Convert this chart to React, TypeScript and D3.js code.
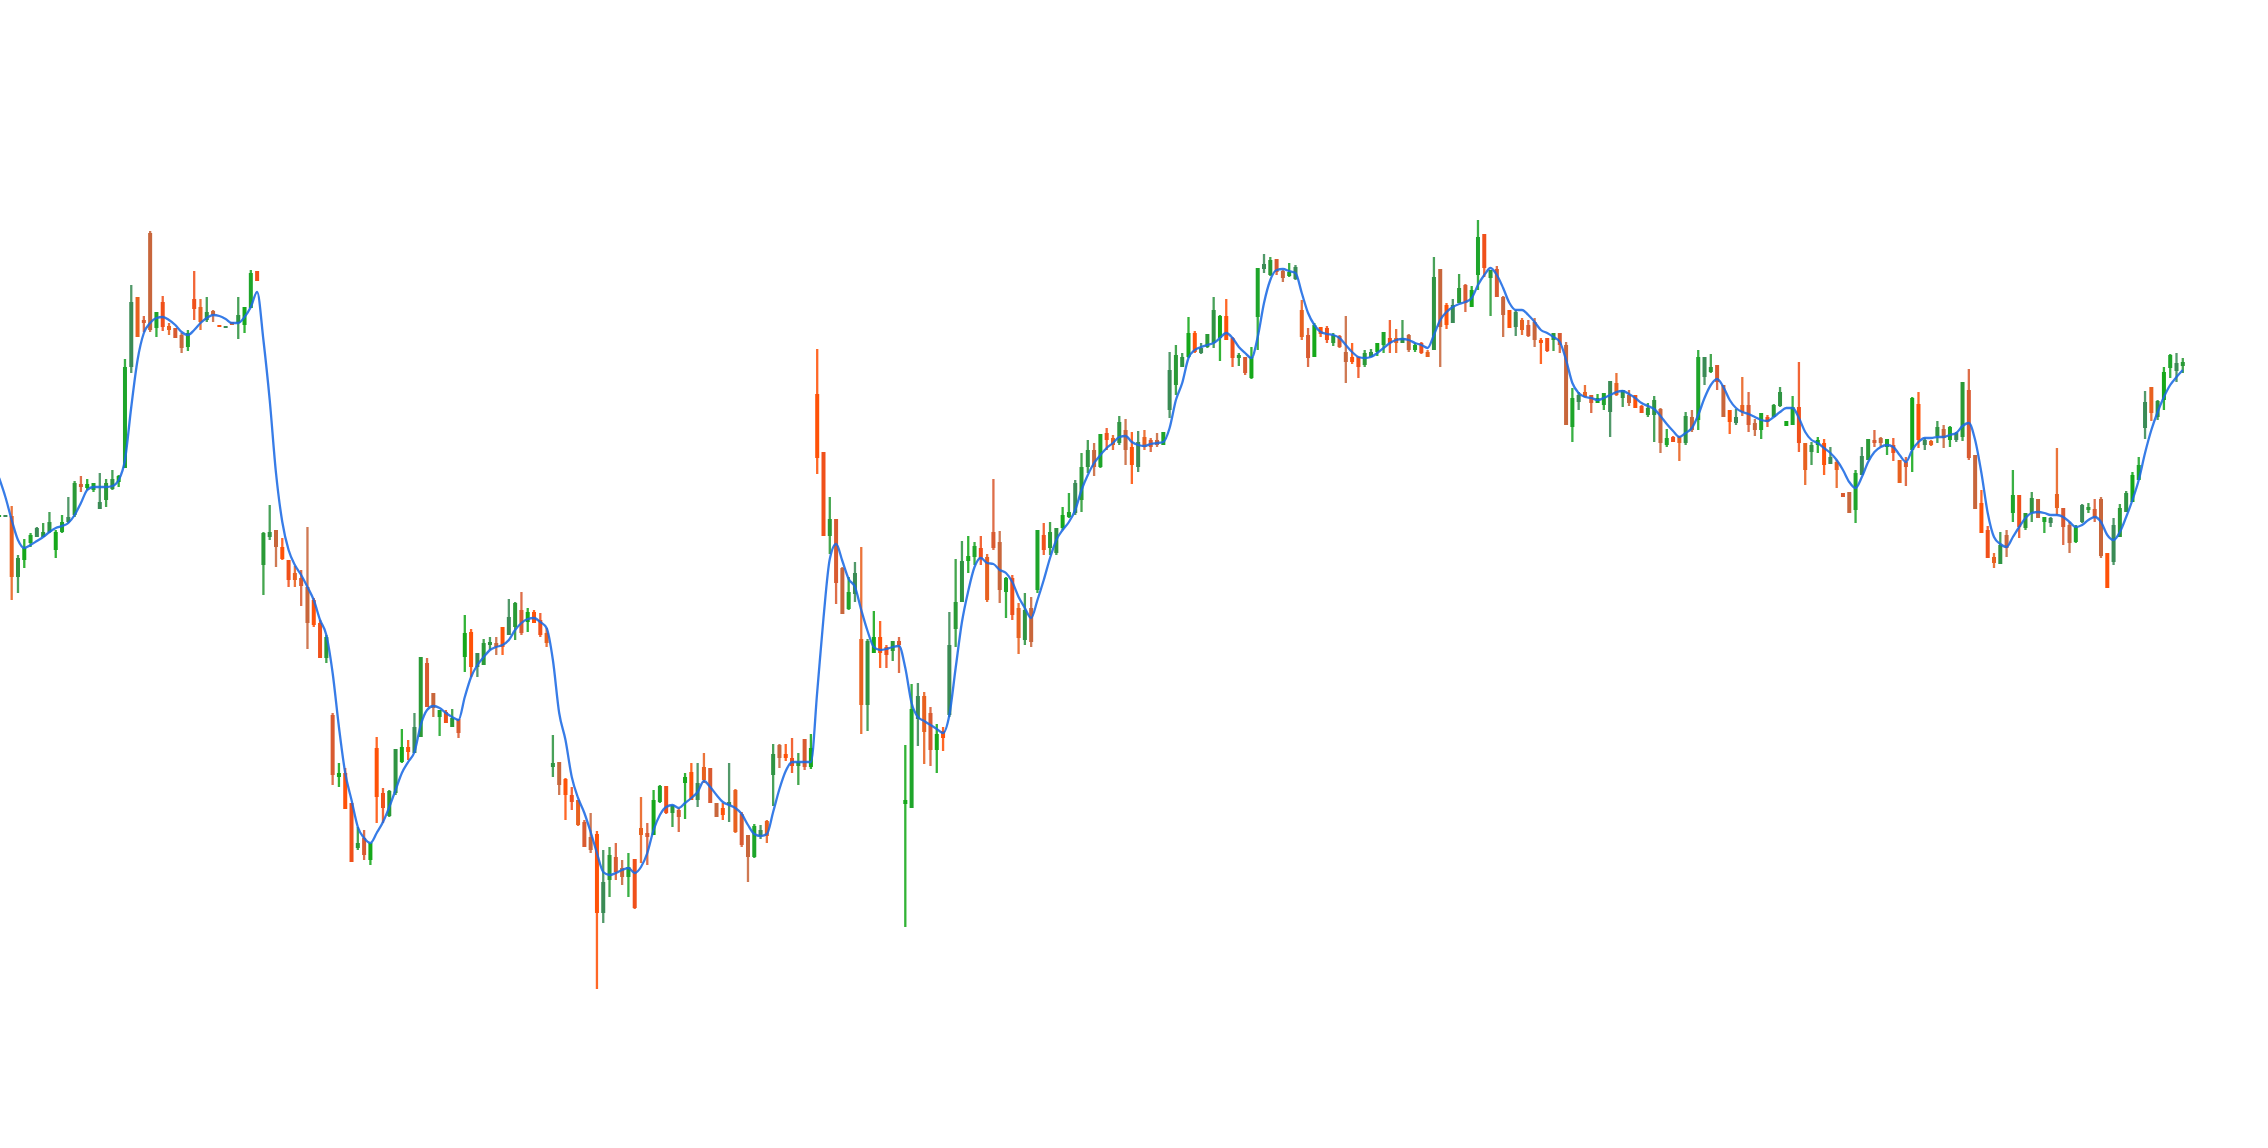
import React from "react";
import * as d3 from "d3";

const W = 2268;
const H = 1148;

// first candle index (partly outside the plot on the left)
const firstIndex = -1;

const highs = [
  585,
  585, 594, 545, 561, 567, 573, 577, 588, 570, 585,
  603, 619, 624, 621, 617, 627, 621, 630, 625, 741,
  815, 803, 784, 869, 788, 804, 777, 772, 767, 770,
  829, 801, 803, 790, 775, 774, 778, 803, 793, 830,
  829, 568, 595, 570, 562, 540, 534, 530, 573, 502,
  480, 465, 387, 337, 332, 297, 273, 270, 257, 363,
  312, 310, 351, 371, 360, 387, 443, 442, 407, 390,
  390, 391, 381, 485, 471, 447, 461, 463, 463, 473,
  501, 498, 508, 492, 490, 487, 472, 365, 338, 322,
  313, 300, 280, 287, 269, 250, 253, 257, 240, 247,
  241, 303, 277, 310, 315, 314, 295, 292, 327, 337,
  337, 347, 332, 297, 297, 337, 311, 288, 265, 276,
  275, 280, 356, 356, 356, 362, 347, 361, 366, 751,
  648, 603, 581, 533, 523, 538, 553, 461, 489, 479,
  455, 459, 463, 355, 416, 417, 408, 393, 376, 373,
  488, 541, 559, 564, 558, 564, 546, 621, 569, 523,
  525, 497, 507, 503, 570, 577, 578, 572, 593, 607,
  620, 647, 660, 657, 666, 672, 665, 684, 681, 668,
  669, 670, 662, 667, 668, 748, 755, 747, 783, 769,
  757, 766, 803, 785, 801, 763, 747, 743, 753, 832,
  846, 843, 841, 830, 837, 835, 800, 772, 777, 773,
  774, 767, 765, 784, 757, 743, 750, 751, 757, 768,
  780, 771, 780, 766, 757, 758, 750, 843, 831, 797,
  801, 826, 816, 814, 880, 866, 830, 834, 804, 790,
  790, 782, 780, 782, 762, 762, 767, 767, 758, 712,
  708, 715, 705, 706, 707, 719, 727, 710, 710, 705,
  695, 697, 704, 692, 671, 664, 664, 688, 690, 750,
  743, 746, 735, 715, 690, 691, 723, 708, 681, 687,
  685, 696, 713, 679, 704, 738, 657, 658, 663, 661,
  653, 640, 607, 608, 630, 653, 661, 670, 663, 661,
  662, 640, 643, 703, 708, 662, 660, 679, 675, 674,
  668, 718, 731, 645, 610, 574, 547, 568, 570, 630,
  605, 587, 608, 601, 583, 583, 652, 592, 578, 575,
  596, 597, 601, 603, 547, 582, 596, 609, 628, 643,
  709, 713, 700, 733, 746, 747, 742,
];

const opens = [
  583,
  583, 584, 523, 540, 557, 563, 563, 568, 550, 568,
  578, 585, 616, 612, 610, 591, 600, 611, 618, 632,
  733, 803, 780, 867, 772, 798, 774, 772, 765, 753,
  801, 793, 780, 789, 775, 772, 778, 777, 775, 792,
  829, 535, 563, 570, 553, 540, 527, 522, 513, 500,
  477, 442, 385, 323, 327, 297, 252, 262, 240, 352,
  307, 284, 307, 338, 353, 347, 363, 437, 407, 383,
  388, 373, 381, 443, 468, 433, 435, 455, 457, 473,
  465, 473, 490, 478, 488, 480, 467, 333, 338, 321,
  305, 300, 278, 263, 266, 187, 220, 243, 232, 223,
  241, 272, 267, 265, 298, 314, 287, 290, 317, 328,
  300, 333, 332, 297, 292, 295, 310, 286, 265, 243,
  264, 279, 325, 355, 346, 342, 334, 361, 333, 706,
  648, 564, 581, 532, 491, 506, 461, 395, 447, 463,
  453, 449, 459, 296, 292, 381, 404, 387, 350, 369,
  385, 471, 498, 539, 543, 552, 543, 568, 558, 508,
  522, 492, 460, 492, 510, 565, 552, 547, 572, 583,
  587, 600, 633, 650, 633, 667, 662, 657, 670, 653,
  633, 663, 660, 660, 655, 690, 715, 733, 743, 767,
  747, 753, 757, 762, 784, 762, 742, 743, 722, 783,
  831, 825, 841, 829, 824, 821, 790, 765, 743, 773,
  772, 757, 764, 748, 743, 743, 735, 743, 748, 755,
  762, 762, 757, 765, 750, 757, 748, 750, 831, 795,
  777, 797, 815, 793, 825, 866, 822, 831, 803, 790,
  773, 780, 775, 778, 760, 762, 760, 767, 755, 673,
  698, 708, 705, 697, 695, 688, 717, 702, 705, 705,
  694, 685, 685, 691, 655, 663, 663, 657, 683, 680,
  723, 728, 735, 715, 690, 677, 695, 695, 677, 670,
  683, 683, 694, 674, 675, 693, 657, 648, 655, 657,
  636, 638, 607, 608, 590, 625, 640, 660, 662, 653,
  655, 640, 638, 650, 696, 655, 659, 664, 671, 660,
  660, 663, 710, 645, 597, 570, 543, 536, 565, 587,
  605, 572, 587, 601, 578, 577, 606, 592, 575, 558,
  578, 590, 591, 601, 547, 538, 563, 588, 598, 620,
  672, 713, 683, 700, 732, 729, 734,
];

const closes = [
  585,
  585, 523, 542, 552, 565, 572, 568, 578, 568, 578,
  583, 617, 613, 616, 617, 598, 617, 621, 624, 733,
  798, 763, 777, 770, 788, 773, 770, 762, 752, 767,
  791, 778, 788, 785, 773, 774, 775, 785, 793, 827,
  819, 567, 568, 553, 541, 520, 520, 514, 477, 475,
  442, 463, 325, 327, 291, 238, 257, 245, 257, 303,
  292, 309, 351, 353, 348, 373, 443, 393, 392, 390,
  377, 382, 367, 467, 433, 447, 457, 458, 453, 453,
  483, 497, 467, 488, 477, 465, 457, 337, 315, 305,
  298, 275, 253, 250, 187, 218, 245, 228, 223, 233,
  192, 265, 263, 300, 314, 287, 295, 283, 323, 300,
  317, 320, 297, 283, 285, 298, 268, 255, 243, 274,
  270, 264, 346, 342, 342, 334, 338, 333, 352, 642,
  564, 581, 517, 486, 508, 527, 395, 459, 463, 447,
  445, 459, 455, 300, 391, 404, 368, 350, 366, 362,
  455, 498, 539, 544, 554, 541, 500, 552, 510, 522,
  485, 462, 490, 458, 570, 550, 568, 572, 585, 588,
  617, 633, 650, 633, 666, 660, 655, 678, 650, 635,
  658, 653, 653, 655, 668, 730, 745, 743, 767, 748,
  752, 766, 790, 784, 760, 742, 745, 727, 743, 832,
  836, 840, 828, 822, 828, 833, 763, 742, 775, 766,
  760, 765, 753, 738, 738, 733, 747, 748, 757, 768,
  757, 757, 762, 750, 755, 747, 743, 823, 773, 775,
  795, 812, 797, 810, 863, 832, 830, 803, 785, 772,
  788, 770, 764, 760, 757, 749, 767, 755, 675, 702,
  705, 703, 697, 702, 707, 719, 705, 710, 697, 692,
  687, 692, 700, 657, 662, 658, 657, 684, 670, 743,
  743, 733, 718, 683, 678, 683, 688, 675, 670, 687,
  678, 695, 708, 679, 693, 657, 630, 655, 660, 635,
  643, 630, 603, 587, 627, 644, 661, 657, 657, 661,
  647, 617, 633, 702, 660, 660, 655, 673, 662, 673,
  667, 718, 642, 591, 567, 542, 537, 555, 552, 605,
  573, 587, 602, 582, 583, 582, 592, 573, 557, 573,
  595, 593, 582, 544, 512, 575, 592, 607, 625, 635,
  698, 687, 699, 728, 745, 737, 738,
];

const lows = [
  583,
  583, 500, 507, 532, 553, 563, 563, 567, 542, 567,
  577, 583, 608, 610, 608, 591, 593, 610, 613, 632,
  727, 763, 768, 768, 763, 769, 765, 762, 747, 749,
  780, 770, 778, 778, 773, 772, 775, 761, 767, 792,
  819, 505, 560, 533, 540, 513, 513, 494, 451, 473,
  442, 437, 315, 313, 291, 238, 250, 240, 235, 277,
  277, 283, 305, 337, 340, 347, 363, 393, 383, 364,
  377, 373, 362, 428, 423, 423, 435, 450, 445, 445,
  465, 460, 465, 468, 477, 463, 453, 323, 305, 280,
  290, 274, 253, 247, 111, 177, 203, 220, 215, 203,
  191, 237, 235, 265, 297, 286, 273, 268, 281, 300,
  293, 317, 297, 283, 280, 278, 267, 253, 218, 242,
  261, 257, 294, 332, 339, 327, 315, 330, 331, 626,
  564, 546, 496, 486, 490, 498, 366, 369, 447, 432,
  432, 439, 427, 173, 292, 354, 336, 334, 327, 349,
  383, 453, 498, 527, 535, 535, 498, 550, 497, 482,
  480, 446, 455, 453, 507, 545, 545, 545, 570, 582,
  585, 588, 627, 624, 632, 650, 650, 655, 635, 616,
  628, 650, 648, 653, 655, 682, 705, 733, 742, 747,
  746, 752, 752, 739, 760, 733, 734, 725, 721, 750,
  827, 824, 825, 818, 823, 820, 760, 733, 743, 763,
  757, 754, 752, 717, 736, 722, 733, 743, 744, 747,
  747, 747, 757, 748, 748, 746, 743, 750, 733, 771,
  777, 797, 788, 793, 810, 823, 784, 803, 763, 772,
  764, 765, 763, 753, 736, 748, 749, 747, 675, 658,
  690, 703, 687, 697, 690, 663, 704, 693, 694, 692,
  687, 683, 658, 647, 653, 658, 639, 655, 668, 670,
  715, 727, 710, 683, 666, 675, 684, 668, 664, 661,
  673, 683, 693, 674, 675, 648, 615, 635, 647, 625,
  636, 612, 603, 587, 577, 625, 640, 653, 653, 645,
  639, 617, 614, 628, 652, 650, 654, 657, 652, 653,
  658, 659, 640, 591, 567, 542, 532, 536, 543, 578,
  562, 570, 578, 582, 567, 573, 585, 555, 547, 557,
  577, 587, 578, 542, 512, 535, 563, 588, 598, 620,
  661, 679, 680, 690, 722, 718, 727,
];

// smoothed trend line, one value per candle
const trend = [
  622,
  603, 580, 560, 552, 555, 559, 563, 568, 572, 574,
  577, 585, 597, 610, 613, 613, 613, 614, 620, 640,
  693, 740, 767, 777, 782, 783, 780, 775, 768, 765,
  770, 777, 782, 785, 784, 781, 777, 777, 783, 793,
  808, 760, 700, 627, 578, 550, 535, 525, 513, 500,
  480, 465, 427, 373, 327, 300, 273, 262, 257, 267,
  278, 293, 310, 327, 338, 348, 375, 390, 394, 392,
  387, 383, 380, 403, 423, 435, 443, 450, 453, 455,
  460, 470, 477, 481, 482, 478, 472, 440, 387, 360,
  323, 302, 287, 268, 247, 228, 225, 227, 230, 232,
  227, 233, 247, 270, 285, 293, 295, 292, 297, 302,
  308, 319, 313, 305, 298, 295, 292, 286, 275, 266,
  264, 266, 288, 311, 329, 338, 338, 338, 338, 408,
  482, 541, 556, 539, 521, 513, 490, 469, 453, 450,
  451, 453, 454, 432, 397, 383, 379, 375, 371, 367,
  385, 432, 478, 509, 533, 542, 537, 536, 530, 527,
  518, 503, 492, 482, 500, 520, 542, 560, 570, 578,
  590, 610, 625, 637, 645, 652, 657, 663, 664, 658,
  655, 654, 656, 657, 658, 672, 700, 717, 742, 750,
  753, 755, 757, 762, 767, 762, 753, 747, 742, 763,
  797, 820, 830, 831, 829, 827, 807, 787, 775, 768,
  766, 765, 762, 755, 748, 743, 742, 743, 747, 752,
  757, 760, 761, 760, 757, 755, 752, 765, 780, 788,
  793, 796, 798, 802, 815, 825, 832, 825, 812, 797,
  790, 790, 785, 778, 770, 767, 763, 758, 740, 717,
  707, 703, 702, 700, 702, 705, 708, 709, 706, 702,
  697, 694, 691, 684, 676, 669, 663, 667, 672, 685,
  702, 715, 721, 713, 700, 692, 688, 686, 683, 680,
  679, 683, 688, 692, 692, 682, 668, 660, 657, 652,
  647, 640, 630, 618, 612, 623, 638, 648, 653, 655,
  653, 645, 638, 650, 658, 662, 662, 663, 663, 665,
  667, 674, 677, 660, 627, 587, 563, 556, 553, 563,
  573, 582, 587, 588, 587, 585, 585, 583, 578, 573,
  575, 580, 583, 578, 565, 560, 568, 583, 600, 620,
  647, 670, 688, 703, 715, 723, 730,
];

const upShades = ["#1ea52a", "#2f9442", "#3a8b55", "#16a81a", "#2a9a36"];
const downShades = ["#ff5208", "#e8611f", "#c8663b", "#f0501a", "#d95a30"];

export default function App() {
  const n = closes.length;
  const idx = d3.range(n).map((k) => k + firstIndex);
  const x = d3.scaleLinear().domain([0, 346]).range([5.4, 2182.8]);
  const y = d3.scaleLinear().domain([100, 900]).range([1000, 200]);

  const bodyW = 4.0;
  const wickW = 2.3;

  const linePath = d3
    .line<number>()
    .x((_, k) => x(idx[k]))
    .y((d) => y(d))
    .curve(d3.curveMonotoneX)(trend);

  const candles = idx.map((i, k) => {
    const o = opens[k];
    const c = closes[k];
    const up = c >= o;
    const shade = up
      ? upShades[(k * 7) % upShades.length]
      : downShades[(k * 3) % downShades.length];
    const cx = x(i);
    const top = y(Math.max(o, c));
    const bot = y(Math.min(o, c));
    const bh = Math.max(1.8, bot - top);
    return (
      <g key={k}>
        <rect
          x={cx - wickW / 2}
          y={y(highs[k])}
          width={wickW}
          height={Math.max(1.8, y(lows[k]) - y(highs[k]))}
          fill={shade}
          opacity={0.88}
        />
        <rect x={cx - bodyW / 2} y={top} width={bodyW} height={bh} fill={shade} />
      </g>
    );
  });

  return (
    <svg
      width={W}
      height={H}
      style={{ position: "absolute", left: 0, top: 0, background: "#ffffff" }}
    >
      <rect x={0} y={0} width={W} height={H} fill="#ffffff" />
      <g>{candles}</g>
      <path
        d={linePath || ""}
        fill="none"
        stroke="#1b6ae4"
        strokeWidth={2.3}
        strokeOpacity={0.88}
        strokeLinejoin="round"
      />
    </svg>
  );
}
